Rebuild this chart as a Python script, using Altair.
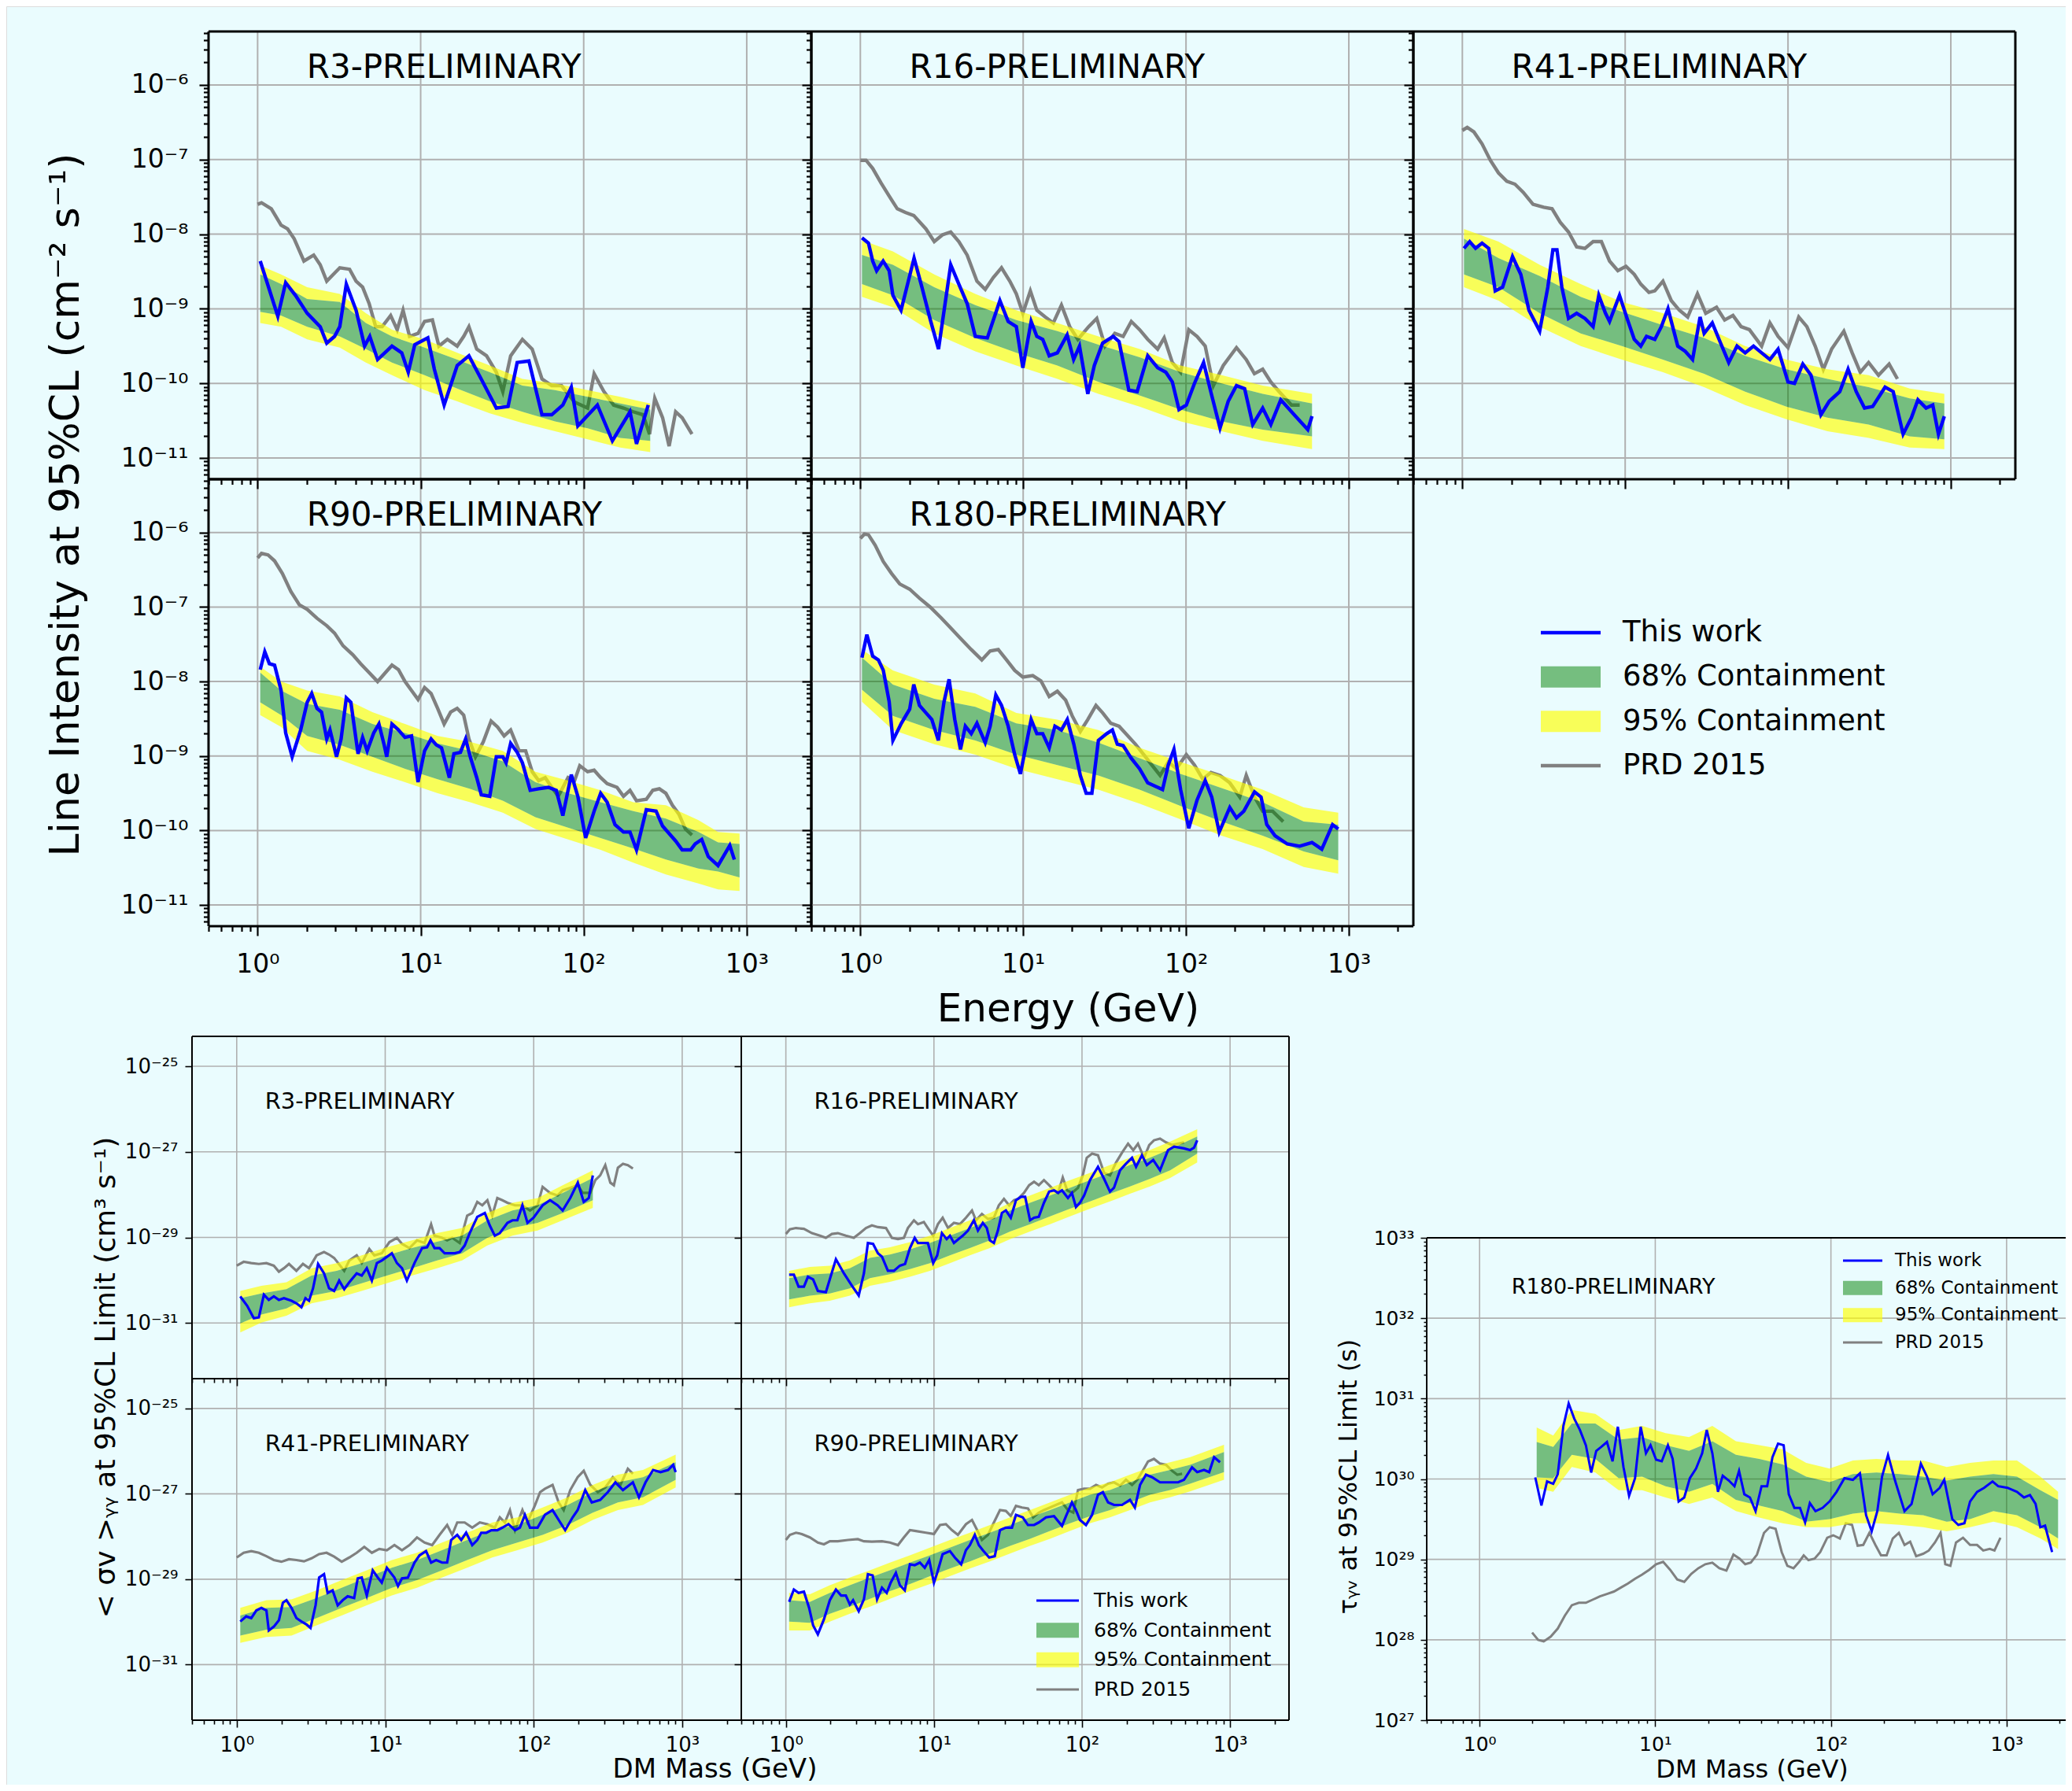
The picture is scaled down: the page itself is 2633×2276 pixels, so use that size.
import altair as alt
import pandas as pd

FONT = "DejaVu Sans"
BG = "#eafcfe"
M = 8
W, H = 2617, 2260
GRID = "#b0b0b0"
BLUE, GRAY, GREEN, YELLOW = "#0000ff", "#808080", "#008000", "#ffff00"

# ---------------------------------------------------------------------------
# Values, written as powers of ten (log10 of the value).
# ---------------------------------------------------------------------------
# ---- Top figure: line intensity limit (cm^-2 s^-1) vs energy (GeV) ----
R3_tw_logE = [.016,.124,.172,.232,.304,.384,.424,.472,.504,.544,.604,.656,.688,.736,.824,.884,.924,.964,1.044,1.084,1.144,1.224,1.296,1.376,1.464,1.536,1.592,1.664,1.744,1.804,1.872,1.924,1.964,2.084,2.176,2.284,2.324,2.396]
R3_tw_logF = [-8.36,-9.10,-8.65,-8.82,-9.06,-9.24,-9.46,-9.37,-9.24,-8.67,-9.02,-9.50,-9.37,-9.68,-9.50,-9.59,-9.85,-9.48,-9.39,-9.81,-10.29,-9.76,-9.63,-9.96,-10.33,-10.31,-9.72,-9.70,-10.42,-10.42,-10.29,-10.05,-10.57,-10.29,-10.77,-10.38,-10.81,-10.29]
R3_prd_logE = [0,.024,.084,.144,.184,.224,.284,.344,.384,.424,.464,.504,.564,.604,.644,.684,.724,.764,.816,.856,.892,.932,.984,1.024,1.072,1.112,1.164,1.224,1.264,1.296,1.344,1.404,1.464,1.504,1.552,1.624,1.684,1.744,1.804,1.864,1.944,2.024,2.064,2.124,2.184,2.244,2.304,2.364,2.404,2.436,2.484,2.524,2.564,2.604,2.664]
R3_prd_logF = [-7.60,-7.58,-7.66,-7.88,-7.93,-8.06,-8.36,-8.28,-8.41,-8.63,-8.54,-8.45,-8.47,-8.63,-8.71,-8.93,-9.24,-9.24,-9.09,-9.28,-9.02,-9.37,-9.33,-9.17,-9.15,-9.50,-9.41,-9.50,-9.37,-9.24,-9.54,-9.63,-9.85,-10.11,-9.63,-9.41,-9.54,-9.94,-10.03,-10.03,-10.25,-10.33,-9.87,-10.11,-10.29,-10.33,-10.38,-10.42,-10.68,-10.20,-10.46,-10.84,-10.38,-10.46,-10.68]
R3_band_logE = [.016,.144,.304,.504,.664,.824,1.024,1.224,1.424,1.624,1.824,2.024,2.224,2.408]
R3_hi95 = [-8.42,-8.54,-8.71,-8.80,-9.06,-9.28,-9.41,-9.59,-9.76,-9.94,-10.00,-10.09,-10.18,-10.27]
R3_hi68 = [-8.54,-8.67,-8.87,-8.91,-9.19,-9.37,-9.52,-9.68,-9.85,-10.03,-10.09,-10.18,-10.27,-10.35]
R3_lo68 = [-9.04,-9.09,-9.24,-9.37,-9.54,-9.72,-9.89,-10.07,-10.24,-10.38,-10.51,-10.60,-10.73,-10.77]
R3_lo95 = [-9.19,-9.24,-9.41,-9.52,-9.72,-9.89,-10.09,-10.24,-10.40,-10.53,-10.64,-10.75,-10.86,-10.92]

R16_tw_logE = [.01,.05,.076,.10,.14,.177,.20,.25,.33,.378,.43,.48,.555,.605,.656,.706,.78,.857,.908,.958,.998,1.049,1.084,1.12,1.16,1.21,1.27,1.31,1.346,1.397,1.437,1.488,1.553,1.589,1.649,1.70,1.765,1.826,1.876,1.916,1.957,2.002,2.052,2.108,2.158,2.209,2.259,2.31,2.36,2.41,2.471,2.521,2.582,2.673,2.748,2.774]
R16_tw_logF = [-8.05,-8.12,-8.36,-8.49,-8.36,-8.49,-8.82,-9.02,-8.32,-8.71,-9.15,-9.54,-8.41,-8.67,-8.93,-9.37,-9.39,-8.89,-9.17,-9.24,-9.79,-9.17,-9.37,-9.41,-9.63,-9.59,-9.35,-9.68,-9.50,-10.14,-9.76,-9.46,-9.37,-9.44,-10.09,-10.11,-9.63,-9.79,-9.85,-9.98,-10.35,-10.29,-10.00,-9.72,-10.16,-10.60,-10.24,-10.03,-10.07,-10.55,-10.33,-10.55,-10.22,-10.44,-10.62,-10.44]
R16_prd_logE = [0,.035,.076,.126,.177,.227,.277,.328,.403,.454,.504,.555,.605,.656,.716,.767,.817,.867,.918,.958,.998,1.044,1.084,1.135,1.185,1.235,1.286,1.336,1.402,1.452,1.503,1.563,1.614,1.664,1.715,1.765,1.826,1.866,1.916,1.967,2.017,2.068,2.118,2.168,2.229,2.31,2.37,2.42,2.471,2.521,2.572,2.648,2.698]
R16_prd_logF = [-7.01,-7.01,-7.12,-7.31,-7.49,-7.66,-7.71,-7.75,-7.93,-8.10,-8.01,-7.97,-8.10,-8.28,-8.63,-8.74,-8.58,-8.45,-8.63,-8.80,-9.06,-8.76,-9.02,-9.11,-9.19,-8.95,-9.24,-9.41,-9.24,-9.13,-9.50,-9.33,-9.37,-9.17,-9.28,-9.41,-9.54,-9.39,-9.72,-9.85,-9.28,-9.37,-9.50,-10.03,-9.76,-9.52,-9.68,-9.87,-9.81,-9.98,-10.11,-10.29,-10.29]
R16_band_logE = [.01,.20,.454,.706,.958,1.21,1.462,1.715,1.967,2.219,2.471,2.774]
R16_hi95 = [-8.08,-8.23,-8.54,-8.80,-9.02,-9.19,-9.37,-9.54,-9.76,-9.89,-10.03,-10.14]
R16_hi68 = [-8.28,-8.41,-8.71,-8.95,-9.15,-9.30,-9.48,-9.65,-9.85,-10.00,-10.14,-10.27]
R16_lo68 = [-8.67,-8.82,-9.15,-9.39,-9.59,-9.76,-9.98,-10.16,-10.35,-10.51,-10.62,-10.71]
R16_lo95 = [-8.84,-8.98,-9.33,-9.57,-9.76,-9.94,-10.14,-10.31,-10.51,-10.64,-10.77,-10.88]

R41_tw_logE = [.01,.045,.081,.121,.162,.202,.247,.308,.359,.409,.475,.525,.556,.581,.611,.652,.702,.753,.803,.838,.879,.904,.965,1.015,1.056,1.096,1.131,1.182,1.222,1.263,1.323,1.369,1.414,1.46,1.485,1.535,1.586,1.636,1.687,1.737,1.788,1.838,1.889,1.939,2.0,2.04,2.091,2.141,2.202,2.253,2.318,2.369,2.419,2.47,2.52,2.596,2.646,2.707,2.758,2.798,2.848,2.889,2.924,2.96]
R41_tw_logF = [-8.19,-8.10,-8.19,-8.12,-8.19,-8.76,-8.71,-8.30,-8.54,-9.02,-9.30,-8.71,-8.21,-8.21,-8.71,-9.13,-9.06,-9.13,-9.24,-8.82,-9.06,-9.17,-8.82,-9.15,-9.41,-9.50,-9.37,-9.41,-9.24,-9.00,-9.50,-9.57,-9.68,-9.11,-9.33,-9.19,-9.46,-9.72,-9.50,-9.59,-9.50,-9.59,-9.68,-9.54,-9.98,-10.00,-9.74,-9.89,-10.42,-10.24,-10.11,-9.81,-10.11,-10.33,-10.31,-10.05,-10.11,-10.68,-10.46,-10.22,-10.33,-10.29,-10.68,-10.44]
R41_prd_logE = [0,.03,.071,.121,.172,.222,.273,.323,.374,.434,.5,.551,.601,.652,.702,.753,.803,.854,.904,.955,1.005,1.056,1.096,1.146,1.182,1.232,1.283,1.333,1.384,1.444,1.495,1.561,1.611,1.662,1.712,1.763,1.838,1.889,1.939,2.0,2.066,2.116,2.167,2.217,2.268,2.343,2.394,2.444,2.495,2.556,2.621,2.672]
R41_prd_logF = [-6.61,-6.57,-6.63,-6.79,-7.01,-7.18,-7.29,-7.33,-7.44,-7.60,-7.64,-7.66,-7.84,-7.97,-8.17,-8.19,-8.10,-8.10,-8.36,-8.49,-8.43,-8.54,-8.67,-8.78,-8.76,-8.63,-8.89,-9.02,-9.11,-8.80,-9.06,-8.98,-9.15,-9.09,-9.24,-9.28,-9.50,-9.19,-9.37,-9.52,-9.11,-9.24,-9.50,-9.81,-9.54,-9.30,-9.59,-9.85,-9.72,-9.89,-9.74,-9.94]
R41_band_logE = [.01,.222,.475,.727,.98,1.232,1.485,1.737,1.99,2.242,2.495,2.747,2.96]
R41_hi95 = [-7.93,-8.10,-8.41,-8.67,-8.91,-9.06,-9.24,-9.50,-9.68,-9.81,-9.89,-10.07,-10.14]
R41_hi68 = [-8.06,-8.32,-8.56,-8.84,-9.04,-9.22,-9.39,-9.63,-9.81,-9.94,-10.05,-10.20,-10.27]
R41_lo68 = [-8.54,-8.71,-9.06,-9.33,-9.50,-9.68,-9.87,-10.11,-10.31,-10.46,-10.55,-10.71,-10.75]
R41_lo95 = [-8.71,-8.89,-9.24,-9.50,-9.68,-9.85,-10.05,-10.29,-10.48,-10.64,-10.73,-10.86,-10.88]

R90_tw_logE = [.016,.044,.072,.104,.144,.172,.212,.264,.304,.332,.364,.392,.424,.444,.484,.512,.544,.572,.616,.644,.672,.712,.744,.776,.792,.824,.864,.904,.944,.984,1.024,1.064,1.096,1.128,1.176,1.204,1.244,1.276,1.304,1.344,1.372,1.424,1.464,1.504,1.524,1.552,1.592,1.624,1.672,1.724,1.784,1.832,1.872,1.924,1.964,2.012,2.064,2.104,2.144,2.192,2.244,2.284,2.324,2.384,2.444,2.484,2.524,2.564,2.604,2.656,2.684,2.724,2.764,2.824,2.856,2.896,2.924]
R90_tw_logF = [-7.84,-7.60,-7.76,-7.78,-8.12,-8.69,-9.01,-8.65,-8.28,-8.16,-8.36,-8.41,-8.77,-8.65,-9.01,-8.77,-8.22,-8.28,-8.97,-8.75,-8.93,-8.69,-8.57,-8.85,-9.01,-8.57,-8.65,-8.75,-8.73,-9.35,-8.93,-8.77,-8.85,-8.89,-9.29,-8.97,-8.95,-8.77,-9.01,-9.29,-9.52,-9.54,-9.01,-9.01,-9.09,-8.83,-8.95,-9.09,-9.46,-9.44,-9.42,-9.46,-9.80,-9.25,-9.54,-10.10,-9.74,-9.50,-9.62,-9.92,-10.02,-10.02,-10.26,-9.72,-9.74,-9.94,-10.04,-10.14,-10.26,-10.26,-10.18,-10.12,-10.35,-10.47,-10.35,-10.20,-10.39]
R90_prd_logE = [0,.024,.064,.104,.152,.204,.256,.304,.364,.424,.472,.524,.584,.632,.684,.736,.784,.824,.864,.904,.944,.984,1.024,1.064,1.104,1.144,1.184,1.224,1.264,1.296,1.336,1.384,1.432,1.472,1.512,1.552,1.604,1.644,1.684,1.724,1.764,1.804,1.844,1.904,1.944,1.976,2.024,2.064,2.104,2.144,2.204,2.244,2.284,2.324,2.384,2.424,2.464,2.504,2.544,2.584,2.624,2.664]
R90_prd_logF = [-6.34,-6.28,-6.30,-6.38,-6.55,-6.79,-6.97,-7.03,-7.15,-7.25,-7.35,-7.52,-7.64,-7.76,-7.88,-8.00,-7.88,-7.78,-7.84,-8.00,-8.12,-8.24,-8.08,-8.16,-8.36,-8.57,-8.41,-8.36,-8.45,-8.77,-9.01,-8.81,-8.53,-8.61,-8.73,-8.65,-8.93,-8.93,-9.21,-9.33,-9.29,-9.42,-9.54,-9.29,-9.33,-9.13,-9.21,-9.19,-9.29,-9.37,-9.42,-9.54,-9.46,-9.60,-9.58,-9.46,-9.44,-9.50,-9.66,-9.78,-9.98,-10.06]
R90_band_logE = [.016,.144,.304,.504,.704,.904,1.104,1.304,1.504,1.704,1.904,2.104,2.304,2.504,2.704,2.824,2.956]
R90_hi95 = [-7.80,-8.00,-8.12,-8.20,-8.41,-8.57,-8.73,-8.81,-8.93,-9.21,-9.33,-9.46,-9.62,-9.66,-9.86,-10.02,-10.04]
R90_hi68 = [-7.88,-8.12,-8.30,-8.38,-8.57,-8.69,-8.83,-8.93,-9.07,-9.35,-9.50,-9.62,-9.74,-9.84,-10.02,-10.16,-10.18]
R90_lo68 = [-8.28,-8.45,-8.73,-8.85,-9.01,-9.17,-9.31,-9.44,-9.60,-9.82,-9.96,-10.10,-10.24,-10.39,-10.51,-10.55,-10.63]
R90_lo95 = [-8.45,-8.61,-8.93,-9.05,-9.21,-9.35,-9.50,-9.62,-9.76,-9.98,-10.12,-10.26,-10.43,-10.59,-10.71,-10.79,-10.81]

R180_tw_logE = [.01,.04,.076,.111,.141,.177,.20,.252,.303,.328,.363,.403,.439,.479,.514,.545,.58,.615,.645,.681,.716,.767,.797,.832,.867,.908,.948,.983,1.049,1.084,1.12,1.16,1.195,1.235,1.271,1.311,1.351,1.387,1.422,1.462,1.513,1.548,1.578,1.614,1.664,1.715,1.765,1.815,1.856,1.891,1.926,1.967,2.017,2.068,2.118,2.158,2.204,2.269,2.31,2.355,2.421,2.461,2.496,2.547,2.622,2.698,2.774,2.834,2.9,2.935]
R180_tw_logF = [-7.68,-7.37,-7.66,-7.71,-7.85,-8.27,-8.79,-8.56,-8.37,-8.04,-8.32,-8.42,-8.51,-8.79,-8.27,-7.97,-8.51,-8.91,-8.60,-8.70,-8.56,-8.82,-8.60,-8.18,-8.32,-8.60,-8.98,-9.24,-8.51,-8.70,-8.70,-8.89,-8.60,-8.65,-8.51,-8.84,-9.26,-9.50,-9.50,-8.79,-8.70,-8.65,-8.84,-8.86,-9.03,-9.17,-9.36,-9.41,-9.45,-9.12,-8.91,-9.45,-9.97,-9.59,-9.33,-9.55,-10.02,-9.69,-9.83,-9.74,-9.48,-9.55,-9.92,-10.07,-10.18,-10.21,-10.16,-10.25,-9.92,-9.98]
R180_prd_logE = [0,.025,.05,.091,.141,.192,.242,.303,.363,.429,.494,.555,.615,.681,.746,.797,.847,.898,.948,.998,1.059,1.109,1.16,1.21,1.261,1.301,1.351,1.397,1.447,1.488,1.538,1.589,1.639,1.689,1.74,1.79,1.841,1.891,1.941,2.002,2.052,2.103,2.153,2.209,2.269,2.33,2.37,2.421,2.471,2.532,2.597]
R180_prd_logF = [-6.08,-6.02,-6.03,-6.17,-6.39,-6.55,-6.69,-6.76,-6.88,-7.00,-7.14,-7.28,-7.42,-7.57,-7.71,-7.59,-7.57,-7.71,-7.85,-7.94,-7.92,-7.99,-8.20,-8.13,-8.25,-8.46,-8.67,-8.51,-8.32,-8.42,-8.56,-8.60,-8.72,-8.84,-8.98,-9.12,-9.26,-9.08,-9.17,-8.98,-9.12,-9.31,-9.22,-9.26,-9.36,-9.55,-9.26,-9.55,-9.74,-9.74,-9.88]
R180_band_logE = [.01,.20,.454,.706,.958,1.21,1.462,1.715,1.967,2.219,2.471,2.723,2.935]
R180_hi95 = [-7.57,-7.85,-8.04,-8.16,-8.42,-8.51,-8.65,-8.89,-9.08,-9.26,-9.45,-9.69,-9.76]
R180_hi68 = [-7.68,-8.04,-8.23,-8.34,-8.56,-8.65,-8.82,-9.03,-9.24,-9.43,-9.62,-9.88,-9.92]
R180_lo68 = [-8.11,-8.46,-8.65,-8.79,-8.98,-9.12,-9.26,-9.45,-9.67,-9.88,-10.07,-10.28,-10.40]
R180_lo95 = [-8.27,-8.65,-8.84,-8.98,-9.17,-9.31,-9.45,-9.64,-9.85,-10.07,-10.25,-10.49,-10.58]

# ---- Bottom-left figure: <sigma v> limit (cm^3 s^-1) vs DM mass (GeV) ----
S3_tw_logM = [.024,.071,.115,.149,.183,.216,.25,.284,.318,.369,.402,.436,.463,.487,.514,.548,.588,.622,.656,.69,.724,.758,.808,.842,.876,.91,.944,.977,1.045,1.079,1.113,1.146,1.197,1.248,1.282,1.305,1.332,1.366,1.40,1.434,1.468,1.502,1.535,1.569,1.62,1.671,1.704,1.738,1.772,1.823,1.857,1.89,1.924,1.958,1.999,2.06,2.11,2.161,2.195,2.246,2.297,2.337,2.371,2.398]
S3_tw_logS = [-30.38,-30.60,-30.89,-30.87,-30.34,-30.46,-30.38,-30.46,-30.42,-30.48,-30.54,-30.63,-30.42,-30.48,-30.19,-29.62,-29.84,-30.19,-30.25,-30.01,-30.21,-30.05,-29.84,-29.89,-29.72,-30.01,-29.60,-29.54,-29.37,-29.60,-29.72,-30.01,-29.60,-29.25,-29.23,-29.07,-29.25,-29.25,-29.37,-29.37,-29.37,-29.34,-29.19,-28.90,-28.52,-28.43,-28.72,-28.96,-28.90,-28.66,-28.60,-28.60,-28.25,-28.66,-28.54,-28.25,-28.13,-28.25,-28.37,-28.08,-27.72,-28.17,-28.08,-27.55]
S3_prd_logM = [0,.047,.098,.149,.20,.25,.284,.318,.352,.402,.446,.487,.538,.588,.622,.656,.724,.758,.808,.842,.893,.927,.977,1.028,1.079,1.113,1.163,1.214,1.265,1.309,1.332,1.383,1.417,1.451,1.502,1.552,1.586,1.62,1.654,1.688,1.721,1.755,1.789,1.823,1.874,1.924,1.975,2.026,2.06,2.11,2.161,2.195,2.246,2.296,2.33,2.381,2.415,2.448,2.482,2.516,2.54,2.567,2.601,2.634,2.668]
S3_prd_logS = [-29.66,-29.57,-29.60,-29.62,-29.60,-29.66,-29.80,-29.72,-29.62,-29.78,-29.62,-29.72,-29.42,-29.34,-29.40,-29.48,-29.78,-29.54,-29.42,-29.60,-29.27,-29.42,-29.37,-29.11,-29.01,-29.15,-29.25,-29.07,-29.13,-28.69,-28.96,-29.01,-29.07,-29.01,-29.13,-28.49,-28.43,-28.17,-28.25,-28.13,-28.49,-28.08,-28.13,-28.19,-28.25,-28.25,-28.37,-28.25,-27.82,-27.96,-28.02,-27.90,-27.84,-27.78,-27.96,-27.96,-27.66,-27.55,-27.31,-27.72,-27.78,-27.37,-27.28,-27.31,-27.39]
S3_band_logM = [.024,.166,.335,.504,.673,.842,1.011,1.18,1.349,1.518,1.688,1.857,2.026,2.195,2.398]
S3_hi95 = [-30.25,-30.13,-30.05,-29.72,-29.60,-29.42,-29.23,-29.07,-28.90,-28.78,-28.43,-28.19,-28.08,-27.78,-27.43]
S3_hi68 = [-30.42,-30.31,-30.21,-29.89,-29.78,-29.60,-29.42,-29.25,-29.10,-28.96,-28.60,-28.37,-28.25,-27.96,-27.61]
S3_lo68 = [-31.01,-30.80,-30.66,-30.36,-30.25,-30.07,-29.89,-29.72,-29.54,-29.37,-29.01,-28.78,-28.66,-28.43,-28.13]
S3_lo95 = [-31.22,-30.99,-30.83,-30.54,-30.42,-30.25,-30.07,-29.89,-29.72,-29.54,-29.19,-28.96,-28.84,-28.60,-28.31]

S16_tw_logM = [.022,.054,.086,.122,.149,.184,.216,.27,.338,.392,.446,.492,.527,.554,.589,.622,.649,.689,.73,.77,.805,.838,.87,.892,.932,.959,.995,1.022,1.054,1.086,1.108,1.135,1.162,1.195,1.23,1.27,1.297,1.33,1.357,1.378,1.405,1.432,1.459,1.486,1.519,1.554,1.589,1.616,1.649,1.676,1.708,1.743,1.778,1.811,1.838,1.865,1.905,1.932,1.959,1.986,2.014,2.054,2.108,2.149,2.189,2.216,2.257,2.297,2.338,2.365,2.405,2.438,2.481,2.527,2.581,2.622,2.689,2.73,2.757,2.778]
S16_tw_logS = [-29.87,-29.87,-30.15,-30.15,-29.92,-29.98,-30.25,-30.28,-29.51,-29.84,-30.13,-30.36,-29.84,-29.13,-29.15,-29.37,-29.45,-29.78,-29.78,-29.66,-29.62,-29.25,-29.01,-29.13,-29.13,-29.13,-29.60,-29.42,-28.90,-29.04,-28.96,-29.13,-29.05,-28.96,-28.84,-28.60,-28.84,-28.66,-28.78,-29.07,-29.13,-28.84,-28.43,-28.37,-28.54,-28.13,-28.05,-28.05,-28.60,-28.54,-28.52,-28.19,-27.93,-27.90,-27.96,-27.90,-28.08,-27.96,-28.29,-28.19,-28.02,-27.66,-27.35,-27.63,-27.93,-27.84,-27.43,-27.28,-27.14,-27.35,-27.08,-27.31,-27.19,-27.43,-26.96,-26.88,-26.92,-26.96,-26.90,-26.73]
S16_prd_logM = [0,.027,.068,.122,.176,.23,.27,.311,.351,.405,.459,.50,.541,.581,.622,.676,.716,.757,.797,.824,.865,.892,.932,.959,.995,1.027,1.059,1.095,1.135,1.176,1.216,1.257,1.284,1.324,1.365,1.405,1.438,1.473,1.508,1.541,1.568,1.608,1.643,1.676,1.708,1.743,1.778,1.811,1.838,1.87,1.90,1.932,1.973,2.005,2.032,2.068,2.108,2.149,2.189,2.23,2.27,2.311,2.346,2.378,2.419,2.454,2.486,2.527,2.568,2.608,2.649,2.689]
S16_prd_logS = [-28.92,-28.81,-28.78,-28.80,-28.90,-28.96,-29.01,-28.92,-28.90,-28.96,-29.01,-28.90,-28.78,-28.72,-28.76,-28.78,-29.01,-29.04,-29.01,-28.78,-28.60,-28.69,-28.64,-28.78,-28.96,-28.69,-28.54,-28.78,-28.66,-28.69,-28.54,-28.37,-28.60,-28.45,-28.57,-28.54,-28.25,-28.10,-28.25,-28.13,-28.10,-27.96,-27.78,-27.70,-27.78,-27.66,-27.78,-27.90,-27.96,-27.60,-27.90,-27.96,-27.84,-27.55,-27.14,-27.04,-27.08,-27.49,-27.55,-27.25,-27.02,-26.81,-26.96,-26.81,-27.14,-26.84,-26.73,-26.69,-26.78,-26.84,-26.81,-26.78]
S16_band_logM = [.022,.162,.297,.432,.568,.703,.838,.973,1.108,1.243,1.378,1.514,1.649,1.784,1.919,2.054,2.189,2.324,2.459,2.595,2.778]
S16_hi95 = [-29.78,-29.69,-29.66,-29.54,-29.31,-29.23,-29.11,-28.96,-28.78,-28.60,-28.43,-28.19,-28.02,-27.84,-27.66,-27.49,-27.31,-27.14,-26.96,-26.76,-26.47]
S16_hi68 = [-29.95,-29.87,-29.84,-29.72,-29.48,-29.40,-29.28,-29.13,-28.96,-28.78,-28.60,-28.37,-28.19,-28.02,-27.84,-27.66,-27.49,-27.31,-27.14,-26.94,-26.64]
S16_lo68 = [-30.45,-30.36,-30.31,-30.19,-29.95,-29.86,-29.74,-29.60,-29.42,-29.25,-29.07,-28.86,-28.69,-28.51,-28.33,-28.16,-27.98,-27.81,-27.63,-27.43,-27.04]
S16_lo95 = [-30.63,-30.54,-30.48,-30.36,-30.13,-30.04,-29.92,-29.78,-29.60,-29.42,-29.25,-29.04,-28.86,-28.69,-28.51,-28.33,-28.16,-27.98,-27.81,-27.61,-27.25]

S41_tw_logM = [.024,.064,.098,.132,.166,.20,.216,.25,.284,.311,.335,.369,.402,.436,.47,.497,.531,.555,.588,.612,.646,.68,.714,.747,.791,.815,.842,.876,.916,.95,.977,1.011,1.062,1.086,1.113,1.153,1.197,1.231,1.275,1.309,1.343,1.383,1.417,1.444,1.485,1.512,1.545,1.586,1.62,1.647,1.681,1.715,1.755,1.789,1.83,1.874,1.907,1.941,1.975,2.026,2.076,2.127,2.168,2.212,2.262,2.296,2.347,2.391,2.448,2.499,2.55,2.601,2.668,2.709,2.753,2.804,2.854,2.905,2.939,2.956]
S41_tw_logS = [-29.99,-29.87,-29.91,-29.73,-29.67,-29.73,-30.20,-30.11,-29.96,-29.55,-29.49,-29.67,-29.91,-29.99,-30.06,-30.14,-29.61,-28.96,-28.88,-29.32,-29.26,-29.61,-29.49,-29.40,-29.44,-28.98,-28.96,-29.38,-28.79,-28.96,-29.08,-28.73,-28.96,-29.16,-28.98,-28.96,-28.61,-28.44,-28.34,-28.61,-28.55,-28.61,-28.61,-28.08,-27.96,-28.08,-27.91,-28.20,-28.08,-27.91,-27.91,-27.85,-27.85,-27.79,-27.71,-27.85,-27.79,-27.49,-27.79,-27.79,-27.49,-27.38,-27.61,-27.85,-27.55,-27.38,-26.91,-27.20,-27.14,-26.96,-26.73,-26.91,-26.73,-27.08,-26.73,-26.44,-26.49,-26.44,-26.32,-26.49]
S41_prd_logM = [0,.047,.098,.149,.20,.25,.301,.352,.402,.453,.504,.555,.605,.656,.707,.758,.808,.859,.91,.96,1.011,1.062,1.113,1.163,1.214,1.265,1.316,1.366,1.417,1.451,1.485,1.535,1.586,1.637,1.688,1.738,1.772,1.806,1.84,1.874,1.924,1.958,2.009,2.043,2.076,2.127,2.168,2.202,2.246,2.296,2.337,2.381,2.432,2.482,2.533,2.584,2.634,2.668]
S41_prd_logS = [-28.49,-28.38,-28.34,-28.38,-28.46,-28.55,-28.59,-28.53,-28.55,-28.58,-28.51,-28.41,-28.38,-28.47,-28.59,-28.49,-28.38,-28.24,-28.38,-28.29,-28.32,-28.20,-28.32,-28.20,-28.02,-28.14,-28.20,-27.96,-27.73,-27.96,-27.67,-27.67,-27.79,-27.67,-27.71,-27.79,-27.55,-27.67,-27.38,-27.85,-27.38,-27.67,-27.26,-26.96,-26.88,-26.79,-27.20,-27.38,-26.91,-26.61,-26.46,-26.79,-26.96,-26.85,-26.61,-26.79,-26.41,-26.53]
S41_band_logM = [.024,.20,.369,.538,.707,.876,1.045,1.214,1.383,1.552,1.721,1.89,2.06,2.229,2.398,2.567,2.736,2.956]
S41_hi95 = [-29.67,-29.49,-29.47,-29.26,-29.02,-28.79,-28.55,-28.38,-28.14,-27.91,-27.67,-27.55,-27.32,-27.08,-26.79,-26.55,-26.44,-26.08]
S41_hi68 = [-29.85,-29.67,-29.65,-29.44,-29.20,-28.96,-28.73,-28.55,-28.32,-28.08,-27.85,-27.73,-27.49,-27.26,-26.96,-26.73,-26.61,-26.26]
S41_lo68 = [-30.32,-30.18,-30.14,-29.91,-29.67,-29.44,-29.20,-29.02,-28.79,-28.55,-28.32,-28.14,-27.96,-27.73,-27.44,-27.20,-27.08,-26.67]
S41_lo95 = [-30.49,-30.35,-30.32,-30.08,-29.85,-29.61,-29.38,-29.20,-28.96,-28.73,-28.49,-28.32,-28.14,-27.91,-27.61,-27.38,-27.26,-26.85]

S90_tw_logM = [.022,.054,.086,.122,.157,.184,.216,.257,.297,.338,.373,.405,.432,.454,.492,.527,.554,.586,.616,.649,.681,.708,.743,.77,.803,.838,.87,.905,.938,.968,1.0,1.022,1.059,1.108,1.141,1.184,1.216,1.243,1.276,1.303,1.33,1.373,1.411,1.446,1.486,1.527,1.554,1.60,1.635,1.676,1.708,1.757,1.811,1.865,1.892,1.932,1.959,1.986,2.027,2.068,2.108,2.141,2.176,2.216,2.27,2.324,2.357,2.392,2.432,2.473,2.527,2.595,2.649,2.689,2.743,2.778,2.824,2.859,2.892,2.932]
S90_tw_logS = [-29.53,-29.24,-29.32,-29.29,-29.67,-30.08,-30.29,-29.94,-29.49,-29.24,-29.38,-29.38,-29.59,-29.49,-29.75,-29.47,-28.88,-28.91,-29.47,-29.20,-29.32,-29.08,-28.85,-29.14,-29.26,-28.65,-28.67,-28.61,-28.73,-28.55,-29.08,-28.85,-28.41,-28.34,-28.49,-28.65,-28.32,-28.20,-27.96,-28.20,-28.32,-28.49,-28.46,-27.85,-27.79,-27.79,-27.49,-27.55,-27.73,-27.73,-27.67,-27.55,-27.52,-27.75,-27.52,-27.20,-27.38,-27.61,-27.73,-27.49,-27.02,-26.96,-27.20,-27.26,-27.26,-27.14,-27.32,-26.79,-26.55,-26.61,-26.73,-26.73,-26.73,-26.67,-26.38,-26.49,-26.44,-26.49,-26.14,-26.26]
S90_prd_logM = [0,.027,.068,.108,.162,.216,.257,.297,.351,.419,.486,.527,.581,.649,.703,.757,.797,.838,.878,.946,1.0,1.041,1.081,1.122,1.162,1.216,1.257,1.292,1.324,1.365,1.405,1.446,1.486,1.519,1.554,1.595,1.635,1.67,1.708,1.743,1.784,1.824,1.865,1.905,1.941,1.973,2.014,2.054,2.095,2.135,2.176,2.216,2.257,2.297,2.338,2.373,2.405,2.446,2.486,2.527,2.568,2.608,2.643,2.676]
S90_prd_logS = [-28.08,-27.96,-27.91,-27.94,-28.02,-28.14,-28.18,-28.11,-28.11,-28.08,-28.06,-28.11,-28.12,-28.11,-28.14,-28.20,-28.02,-27.85,-27.87,-27.91,-27.94,-27.73,-27.71,-27.85,-27.96,-27.71,-27.61,-27.85,-28.08,-27.96,-27.67,-27.38,-27.40,-27.52,-27.28,-27.32,-27.34,-27.55,-27.44,-27.38,-27.32,-27.26,-27.20,-27.38,-27.44,-26.91,-26.88,-26.88,-26.79,-26.85,-26.76,-26.73,-26.81,-26.67,-26.79,-26.67,-26.49,-26.24,-26.18,-26.29,-26.32,-26.46,-26.55,-26.53]
S90_band_logM = [.022,.162,.297,.432,.568,.703,.838,.973,1.108,1.243,1.378,1.514,1.649,1.784,1.919,2.054,2.189,2.324,2.459,2.595,2.73,2.959]
S90_hi95 = [-29.32,-29.35,-29.14,-28.96,-28.79,-28.61,-28.44,-28.26,-28.08,-27.91,-27.73,-27.55,-27.38,-27.20,-27.02,-26.85,-26.73,-26.55,-26.38,-26.26,-26.14,-25.85]
S90_hi68 = [-29.49,-29.53,-29.32,-29.14,-28.96,-28.79,-28.61,-28.44,-28.26,-28.08,-27.91,-27.73,-27.55,-27.38,-27.20,-27.02,-26.91,-26.73,-26.55,-26.44,-26.32,-26.02]
S90_lo68 = [-29.99,-30.02,-29.81,-29.64,-29.46,-29.28,-29.11,-28.93,-28.75,-28.58,-28.40,-28.22,-28.05,-27.87,-27.69,-27.52,-27.38,-27.20,-27.02,-26.91,-26.76,-26.49]
S90_lo95 = [-30.20,-30.20,-29.99,-29.81,-29.64,-29.46,-29.28,-29.11,-28.93,-28.75,-28.58,-28.40,-28.22,-28.05,-27.87,-27.69,-27.55,-27.38,-27.20,-27.08,-26.94,-26.67]

# ---- Bottom-right figure: lifetime limit (s) vs DM mass (GeV), R180 ----
T_tw_logM = [.317,.352,.384,.419,.445,.477,.507,.539,.571,.605,.635,.664,.693,.725,.757,.787,.819,.851,.885,.917,.947,.973,1.005,1.037,1.072,1.099,1.133,1.165,1.197,1.232,1.267,1.293,1.325,1.357,1.384,1.419,1.451,1.477,1.507,1.539,1.571,1.605,1.637,1.667,1.699,1.731,1.76,1.792,1.824,1.853,1.88,1.912,1.952,1.992,2.032,2.077,2.125,2.165,2.20,2.232,2.264,2.291,2.325,2.365,2.419,2.459,2.512,2.547,2.579,2.619,2.645,2.691,2.725,2.76,2.792,2.832,2.872,2.92,2.952,3.005,3.059,3.099,3.133,3.165,3.192,3.219,3.259]
T_tw_logT = [30.02,29.67,29.97,29.94,30.06,30.66,30.94,30.75,30.61,30.42,30.08,30.35,30.40,30.46,30.22,30.65,30.15,29.79,30.01,30.65,30.32,30.42,30.24,30.22,30.42,30.25,29.72,29.77,30.01,30.13,30.32,30.61,30.32,29.84,30.04,29.98,29.91,30.10,29.81,29.77,29.60,29.91,29.91,30.27,30.44,30.42,29.81,29.64,29.64,29.46,29.70,29.60,29.64,29.72,29.84,30.01,29.99,30.07,29.55,29.35,29.60,30.03,30.30,29.98,29.60,29.69,30.19,30.03,29.81,29.89,29.99,29.50,29.43,29.45,29.72,29.84,29.89,29.97,29.91,29.89,29.84,29.77,29.80,29.69,29.40,29.42,29.09]
T_prd_logM = [.299,.333,.365,.405,.445,.485,.525,.565,.605,.645,.685,.725,.765,.805,.845,.885,.925,.965,1.005,1.045,1.085,1.125,1.165,1.205,1.245,1.285,1.325,1.365,1.405,1.445,1.48,1.512,1.544,1.579,1.619,1.651,1.685,1.72,1.752,1.787,1.819,1.845,1.872,1.907,1.939,1.979,2.013,2.051,2.085,2.12,2.152,2.184,2.219,2.253,2.285,2.317,2.352,2.387,2.419,2.451,2.485,2.525,2.557,2.592,2.624,2.651,2.68,2.712,2.752,2.792,2.832,2.867,2.904,2.931,2.965]
T_prd_logT = [28.09,28.00,27.98,28.04,28.14,28.30,28.43,28.46,28.46,28.50,28.54,28.57,28.60,28.65,28.70,28.76,28.81,28.87,28.94,28.97,28.87,28.75,28.72,28.82,28.89,28.94,28.96,28.89,28.86,29.06,29.01,28.94,28.96,29.06,29.33,29.40,29.38,29.09,28.92,28.89,28.97,29.05,28.99,29.01,29.09,29.27,29.30,29.26,29.45,29.43,29.17,29.18,29.33,29.18,29.05,29.05,29.26,29.33,29.18,29.22,29.04,29.07,29.11,29.21,29.33,28.94,28.92,29.21,29.27,29.18,29.18,29.11,29.13,29.11,29.27]
T_band_logM = [.325,.419,.525,.659,.792,.925,1.059,1.192,1.325,1.459,1.592,1.725,1.859,1.992,2.125,2.259,2.392,2.525,2.659,2.792,2.925,3.059,3.192,3.293]
T_hi95 = [30.64,30.54,30.86,30.81,30.61,30.66,30.57,30.52,30.66,30.47,30.42,30.37,30.20,30.13,30.23,30.25,30.23,30.23,30.15,30.20,30.23,30.23,30.03,29.84]
T_hi68 = [30.46,30.40,30.69,30.69,30.49,30.52,30.42,30.35,30.47,30.30,30.25,30.18,30.03,29.96,30.06,30.08,30.06,30.03,29.98,30.03,30.06,30.03,29.86,29.74]
T_lo68 = [30.02,30.01,30.30,30.25,30.01,30.03,29.91,29.84,29.94,29.74,29.67,29.60,29.47,29.50,29.57,29.60,29.57,29.55,29.47,29.50,29.60,29.55,29.40,29.26]
T_lo95 = [29.89,29.84,30.15,30.08,29.86,29.86,29.77,29.69,29.77,29.60,29.52,29.45,29.40,29.40,29.45,29.45,29.43,29.40,29.35,29.40,29.47,29.40,29.26,29.13]

LEGEND_LABELS = ["This work", "68% Containment", "95% Containment", "PRD 2015"]
LEGEND_COLORS = [BLUE, GREEN, YELLOW, GRAY]
LEGEND_OPACITY = [1.0, 0.5, 0.65, 1.0]
LEGEND_KINDS = ["line", "patch", "patch", "line"]

# ---------------------------------------------------------------------------
def pw(a):
    return [10.0 ** v for v in a]


def line_df(lx, ly):
    n = min(len(lx), len(ly))
    return pd.DataFrame({"x": pw(lx[:n]), "y": pw(ly[:n])})


def band_df(lx, lo95, lo68, hi68, hi95):
    n = min(len(lx), len(lo95), len(lo68), len(hi68), len(hi95))
    return pd.DataFrame({"x": pw(lx[:n]), "l95": pw(lo95[:n]), "l68": pw(lo68[:n]),
                         "u68": pw(hi68[:n]), "u95": pw(hi95[:n])})


def log_ticks(lo, hi, e0, e1, minor=True):
    ks = range(1, 10) if minor else [1]
    out = []
    for e in range(e0, e1 + 1):
        for k in ks:
            v = float(f"{k}e{e}")
            if lo * 0.999 <= v <= hi * 1.001:
                out.append(v)
    return out


EXP = "round(log(datum.value)/LN10)"
DIG = "['\u2070','\u00b9','\u00b2','\u00b3','\u2074','\u2075','\u2076','\u2077','\u2078','\u2079']"
MAJOR = f"abs(log(datum.value)/LN10 - {EXP}) < 0.01"
POW = (f"({MAJOR}) ? '10' + ({EXP} < 0 ? '\u207b' : '') + "
       f"(abs({EXP}) >= 10 ? {DIG}[floor(abs({EXP})/10)] : '') + {DIG}[abs({EXP}) % 10] : ''")

TOP_ST = dict(
    xdom=[0.5, 2490], ydom=[5.2e-12, 5.2e-6],
    xticks=log_ticks(0.5, 2490, -1, 3), yticks=log_ticks(5.2e-12, 5.2e-6, -12, -6),
    xgrid=[1, 10, 100, 1000], ygrid=log_ticks(1e-11, 1e-6, -11, -6, minor=False),
    tfs=33, lpx=20, lpy=14, tmaj=12, tmin=6.5, tw=2.2, bw=3, gw=2,
    lw=4.4, pfs=42, ptx=2.0, pty=1.25e-6,
)
BL_ST = dict(
    xdom=[0.5, 2500], ydom=[5e-33, 5e-25],
    xticks=log_ticks(0.5, 2500, -1, 3), yticks=[1e-31, 1e-29, 1e-27, 1e-25],
    xgrid=[1, 10, 100, 1000], ygrid=[1e-31, 1e-29, 1e-27, 1e-25],
    tfs=26, lpx=9, lpy=9, tmaj=9, tmin=5, tw=1.6, bw=2, gw=1.6,
    lw=3.2, pfs=29, ptx=1.55, pty=1e-26,
)
LT_ST = dict(
    xdom=[0.5, 2170], ydom=[1e27, 1e33],
    xticks=log_ticks(0.5, 2170, -1, 3), yticks=log_ticks(1e27, 1e33, 27, 33),
    xgrid=[1, 10, 100, 1000], ygrid=log_ticks(1e27, 1e33, 27, 33, minor=False),
    tfs=25, lpx=10, lpy=8, tmaj=8, tmin=4, tw=1.5, bw=2, gw=1.6,
    lw=3.0, pfs=27, ptx=1.52, pty=2.0e32,
)


def make_axis(orient, offset, values, show_labels, st, title):
    kw = dict(orient=orient, offset=offset, values=values, labels=show_labels,
              labelExpr=POW, labelFont=FONT, labelFontSize=st["tfs"], labelColor="black",
              labelPadding=st["lpx"] if orient == "bottom" else st["lpy"],
              labelOverlap=False, labelFlush=False, labelBound=False,
              tickSize={"condition": {"test": MAJOR, "value": st["tmaj"]}, "value": st["tmin"]},
              tickWidth=st["tw"], tickColor="black", grid=False, domain=False, zindex=2)
    if title:
        kw.update(title=title["text"], titleFont=FONT, titleFontSize=title["size"],
                  titleFontWeight="normal", titleColor="black", titleX=title["x"],
                  titleY=title["y"], titleAlign="center", titleBaseline=title["baseline"],
                  titleAngle=title["angle"])
    else:
        kw["title"] = None
    return alt.Axis(**kw)


def make_panel(name, box, st, data, xlab, ylab, xtitle=None, ytitle=None, right_edge=True):
    x0, x1, y0, y1 = box
    xs = alt.Scale(type="log", domain=st["xdom"], range=[x0 - M, x1 - M], nice=False)
    ys = alt.Scale(type="log", domain=st["ydom"], range=[y1 - M, y0 - M], nice=False)
    xa = make_axis("bottom", (y1 - M) - H, st["xticks"], xlab, st, xtitle)
    ya = make_axis("left", -(x0 - M), st["yticks"], ylab, st, ytitle)

    def X(f):
        return alt.X(f, type="quantitative", scale=xs, axis=xa)

    def Y(f):
        return alt.Y(f, type="quantitative", scale=ys, axis=ya)

    tw, prd, band = data
    xd0, xd1 = st["xdom"]
    yd0, yd1 = st["ydom"]
    vg = pd.DataFrame({"v": st["xgrid"], "lo": yd0, "hi": yd1})
    hg = pd.DataFrame({"v": st["ygrid"], "lo": xd0, "hi": xd1})
    vedges = pd.DataFrame({"v": [xd0, xd1] if right_edge else [xd0], "lo": yd0, "hi": yd1})
    hedges = pd.DataFrame({"v": [yd0, yd1], "lo": xd0, "hi": xd1})
    lab = pd.DataFrame({"x": [st["ptx"]], "y": [st["pty"]], "t": [name]})

    layers = [
        alt.Chart(vg).mark_rule(color=GRID, strokeWidth=st["gw"]).encode(
            x=X("v"), y=Y("lo"), y2="hi"),
        alt.Chart(hg).mark_rule(color=GRID, strokeWidth=st["gw"]).encode(
            y=Y("v"), x=X("lo"), x2="hi"),
        alt.Chart(prd).mark_line(color=GRAY, strokeWidth=st["lw"]).encode(x=X("x"), y=Y("y")),
        alt.Chart(band).mark_area(color=YELLOW, opacity=0.65).encode(x=X("x"), y=Y("l95"), y2="l68"),
        alt.Chart(band).mark_area(color=YELLOW, opacity=0.65).encode(x=X("x"), y=Y("u68"), y2="u95"),
        alt.Chart(band).mark_area(color=GREEN, opacity=0.5).encode(x=X("x"), y=Y("l68"), y2="u68"),
        alt.Chart(tw).mark_line(color=BLUE, strokeWidth=st["lw"]).encode(x=X("x"), y=Y("y")),
        alt.Chart(vedges).mark_rule(color="black", strokeWidth=st["bw"]).encode(
            x=X("v"), y=Y("lo"), y2="hi"),
        alt.Chart(hedges).mark_rule(color="black", strokeWidth=st["bw"]).encode(
            y=Y("v"), x=X("lo"), x2="hi"),
        alt.Chart(lab).mark_text(align="left", baseline="alphabetic", font=FONT,
                                 fontSize=st["pfs"], color="black").encode(
            x=X("x"), y=Y("y"), text="t:N"),
    ]
    return alt.layer(*layers)


def make_legend(y_first, y_last, sx0, sx1, tx, fs, lw, ph):
    df = pd.DataFrame({"label": LEGEND_LABELS, "color": LEGEND_COLORS,
                       "op": LEGEND_OPACITY, "kind": LEGEND_KINDS})
    ysc = alt.Scale(type="point", domain=LEGEND_LABELS, range=[y_first - M, y_last - M], padding=0)
    y = alt.Y("label:N", scale=ysc, axis=None)
    base = alt.Chart(df)
    lines = base.transform_filter("datum.kind == 'line'").mark_rule(strokeWidth=lw).encode(
        x=alt.value(sx0 - M), x2=alt.value(sx1 - M), y=y,
        color=alt.Color("color:N", scale=None), opacity=alt.Opacity("op:Q", scale=None))
    patches = base.transform_filter("datum.kind == 'patch'").mark_rule(strokeWidth=ph).encode(
        x=alt.value(sx0 - M), x2=alt.value(sx1 - M), y=y,
        color=alt.Color("color:N", scale=None), opacity=alt.Opacity("op:Q", scale=None))
    texts = base.mark_text(align="left", baseline="middle", font=FONT, fontSize=fs,
                           color="black").encode(x=alt.value(tx - M), y=y, text="label:N")
    return alt.layer(lines, patches, texts)


# panel boxes in page pixels: (left, right, top, bottom)
TX = [265, 1031, 1796, 2561]
TY = [40, 609, 1177]
BX = [244, 942, 1638]
BY = [1317, 1752, 2186]

top_ytitle = dict(text="Line Intensity at 95%CL (cm\u207b\u00b2 s\u207b\u00b9)", size=52,
                  x=(83 - M) - (TX[0] - M), y=641 - M, baseline="middle", angle=270)
top_xtitle = dict(text="Energy (GeV)", size=50, x=1357 - M,
                  y=(1297 - M) - (TY[2] - M), baseline="alphabetic", angle=0)
bl_ytitle = dict(text="< \u03c3v >\u1d67\u1d67 at 95%CL Limit (cm\u00b3 s\u207b\u00b9)", size=36,
                 x=(134 - M) - (BX[0] - M), y=1750 - M, baseline="middle", angle=270)
bl_xtitle = dict(text="DM Mass (GeV)", size=34, x=908 - M,
                 y=(2258 - M) - (BY[2] - M), baseline="alphabetic", angle=0)
lt_ytitle = dict(text="\u03c4\u1d67\u1d65 at 95%CL Limit (s)", size=32,
                 x=(1713 - M) - (1813 - M), y=1876 - M, baseline="middle", angle=270)
lt_xtitle = dict(text="DM Mass (GeV)", size=32, x=2226 - M,
                 y=(2258 - M) - (2186 - M), baseline="alphabetic", angle=0)

panels = [
    make_panel("R3-PRELIMINARY", (TX[0], TX[1], TY[0], TY[1]), TOP_ST,
               (line_df(R3_tw_logE, R3_tw_logF), line_df(R3_prd_logE, R3_prd_logF),
                band_df(R3_band_logE, R3_lo95, R3_lo68, R3_hi68, R3_hi95)),
               False, True, ytitle=top_ytitle),
    make_panel("R16-PRELIMINARY", (TX[1], TX[2], TY[0], TY[1]), TOP_ST,
               (line_df(R16_tw_logE, R16_tw_logF), line_df(R16_prd_logE, R16_prd_logF),
                band_df(R16_band_logE, R16_lo95, R16_lo68, R16_hi68, R16_hi95)),
               False, False),
    make_panel("R41-PRELIMINARY", (TX[2], TX[3], TY[0], TY[1]), TOP_ST,
               (line_df(R41_tw_logE, R41_tw_logF), line_df(R41_prd_logE, R41_prd_logF),
                band_df(R41_band_logE, R41_lo95, R41_lo68, R41_hi68, R41_hi95)),
               False, False),
    make_panel("R90-PRELIMINARY", (TX[0], TX[1], TY[1], TY[2]), TOP_ST,
               (line_df(R90_tw_logE, R90_tw_logF), line_df(R90_prd_logE, R90_prd_logF),
                band_df(R90_band_logE, R90_lo95, R90_lo68, R90_hi68, R90_hi95)),
               True, True, xtitle=top_xtitle),
    make_panel("R180-PRELIMINARY", (TX[1], TX[2], TY[1], TY[2]), TOP_ST,
               (line_df(R180_tw_logE, R180_tw_logF), line_df(R180_prd_logE, R180_prd_logF),
                band_df(R180_band_logE, R180_lo95, R180_lo68, R180_hi68, R180_hi95)),
               True, False),
    make_panel("R3-PRELIMINARY", (BX[0], BX[1], BY[0], BY[1]), BL_ST,
               (line_df(S3_tw_logM, S3_tw_logS), line_df(S3_prd_logM, S3_prd_logS),
                band_df(S3_band_logM, S3_lo95, S3_lo68, S3_hi68, S3_hi95)),
               False, True, ytitle=bl_ytitle),
    make_panel("R16-PRELIMINARY", (BX[1], BX[2], BY[0], BY[1]), BL_ST,
               (line_df(S16_tw_logM, S16_tw_logS), line_df(S16_prd_logM, S16_prd_logS),
                band_df(S16_band_logM, S16_lo95, S16_lo68, S16_hi68, S16_hi95)),
               False, False),
    make_panel("R41-PRELIMINARY", (BX[0], BX[1], BY[1], BY[2]), BL_ST,
               (line_df(S41_tw_logM, S41_tw_logS), line_df(S41_prd_logM, S41_prd_logS),
                band_df(S41_band_logM, S41_lo95, S41_lo68, S41_hi68, S41_hi95)),
               True, True, xtitle=bl_xtitle),
    make_panel("R90-PRELIMINARY", (BX[1], BX[2], BY[1], BY[2]), BL_ST,
               (line_df(S90_tw_logM, S90_tw_logS), line_df(S90_prd_logM, S90_prd_logS),
                band_df(S90_band_logM, S90_lo95, S90_lo68, S90_hi68, S90_hi95)),
               True, False),
    make_panel("R180-PRELIMINARY", (1813, 2625, 1573, 2186), LT_ST,
               (line_df(T_tw_logM, T_tw_logT), line_df(T_prd_logM, T_prd_logT),
                band_df(T_band_logM, T_lo95, T_lo68, T_hi68, T_hi95)),
               True, True, xtitle=lt_xtitle, ytitle=lt_ytitle, right_edge=False),
]

legends = [
    make_legend(804, 973, 1958, 2034, 2062, 37, 4.5, 27),
    make_legend(2034, 2147, 1317, 1371, 1390, 25, 3, 19),
    make_legend(1602, 1706, 2342, 2392, 2408, 23, 3, 18),
]

chart = alt.layer(*panels, *legends).resolve_scale(
    x="independent", y="independent"
).properties(
    width=W, height=H, background=BG, padding=0,
    autosize=alt.AutoSizeParams(type="none"),
).configure_view(stroke=None).configure(font=FONT)

chart.save("out.html", embed_options={"renderer": "svg", "actions": False})
